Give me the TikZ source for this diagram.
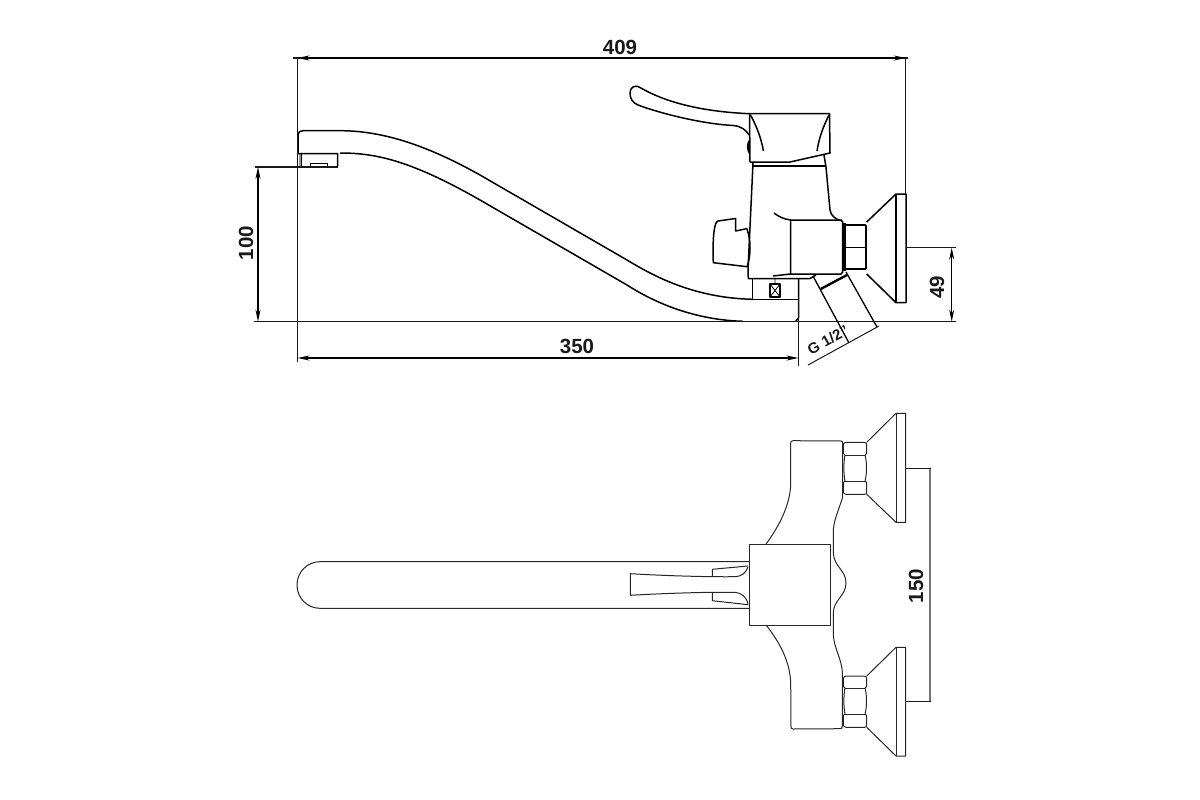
\documentclass[tikz,border=0pt]{standalone}
\usepackage{fontspec}
\setmainfont{Liberation Sans}
\usetikzlibrary{arrows.meta}
\tikzset{
  part/.style={draw=black,line width=1.5pt,line join=round},
  thin part/.style={draw=black!85,line width=1pt,line join=round},
  heavy/.style={draw=black,line width=2.4pt},
  dimline/.style={draw=black!90,line width=1pt},
  dimarrow/.style={draw=black,line width=1.2pt,{Stealth[length=12pt,width=5pt]}-{Stealth[length=12pt,width=5pt]}},
  dimtext/.style={font=\fontsize{20.5}{20.5}\selectfont\bfseries,inner sep=0pt,text=black!90}
}
\begin{document}
\begin{tikzpicture}[x=1pt,y=-1pt]
\useasboundingbox (0,0) rectangle (1200,800);
% ---------- side view: spout
\fill[black!40] (298.5,154) rectangle (301,167);
\draw[part] (340,153) .. controls (375,153) and (410,160) .. (480,200) -- (627,285)
  .. controls (655,303) and (695,320) .. (743,321.3);
\draw[part] (298,153.5) -- (298,135) .. controls (298,132) and (300,130.7) .. (303,130.7) -- (340,130.7)
  .. controls (385,130.7) and (430,147) .. (480,175) -- (627,260)
  .. controls (655,277) and (695,298) .. (752.7,299.3);
\draw[part] (298,153.5) -- (337.7,153.5) -- (337.7,166) -- (336,167.3);
\draw[part,line width=1pt] (301,154) -- (301,167);
\draw[part,line width=1pt] (310.7,167) -- (310.7,163.5) -- (327.3,163.5) -- (327.3,167);
% spout end block
\draw[part] (752.7,278) -- (752.7,299.3) -- (798.5,299.3);
\draw[part] (798.5,278) -- (798.5,318) -- (795.5,321.5);
\draw[part,line width=1.2pt] (770,284) rectangle (780,297);
\draw[part,line width=.8pt] (770,284) -- (780,297) (780,284) -- (770,297) (775,279) -- (775,284);
% lever
\draw[part] (749.5,113.7) .. controls (710,112) and (670,105) .. (640,87.5)
  .. controls (634,84) and (630,88) .. (630,93)
  .. controls (630,99) and (633,103) .. (638,105)
  .. controls (665,115) and (705,124) .. (733,125.5)
  .. controls (741,126) and (746,130) .. (749,135);
\fill[black] (749.5,139) .. controls (746,143) and (746,150) .. (749.5,155) -- cycle;
% handle
\draw[part] (749.5,113.7) -- (829.5,113.7) -- (830,153) -- (790,162) -- (750,162) -- cycle;
\draw[part] (750.5,115) .. controls (757,127) and (761,138) .. (763.5,151);
\draw[part] (829,115) .. controls (823,127) and (819,138) .. (817,151);
\draw[part] (753,166) -- (826,166);
% body
\draw[part] (753,163) -- (748,270) -- (748.3,278.5) -- (810,278.5) -- (816,275);
\draw[part] (824,155) -- (826,167) -- (830,210) .. controls (831,216) and (835,219) .. (842,221);
\draw[part] (774,213) .. controls (779,217) and (784,219) .. (790.7,220);
\draw[part] (773,276) -- (790.7,274);
\draw[part] (790.7,220) -- (841,220) -- (842.7,222) -- (842.7,272) -- (841,274) -- (790.7,274) -- cycle;
% knob
\draw[part] (747.5,228.5) -- (735.7,231) -- (735.7,218.5) -- (718,221) .. controls (714,222) and (712.5,238) .. (713.3,262.7) -- (747,266.7);
\draw[part] (747,229) .. controls (751,240) and (751,256) .. (747,267);
% nut and flange, side view
\draw[part] (866,225) -- (844,225) (844,247.5) -- (866,247.5) (844,269) -- (866,269);
\draw[heavy] (844.5,223) -- (844.5,271);
\draw[part] (866,225) -- (866,269);
\draw[part] (866.7,222) -- (896,194) -- (906,194) -- (906,302.7) -- (896,302.7) -- (866.7,274);
\draw[part] (896,194) -- (896,302.7);
% supply pipe
\draw[part,line width=1.3pt] (813,276) -- (849,343);
\draw[part,line width=1.3pt] (846,272) -- (877,327);
\draw[heavy] (820.7,289) -- (847,275);
% ---------- dimensions, side view
\coordinate (topL) at (297.5,58);
\coordinate (topR) at (905.8,58);
\coordinate (h1) at (258,167);
\coordinate (h2) at (258,321.6);
\coordinate (w1) at (297.5,358);
\coordinate (w2) at (798.5,358);
\coordinate (v1) at (951.7,247.7);
\coordinate (v2) at (951.7,321.6);
\coordinate (g1) at (808,365);
\coordinate (g2) at (879,326);
\draw[dimline,line width=1.2pt] (293,58) -- (908,58);
\draw[dimline,line width=1.2pt] (297.5,58) -- (297.5,362);
\draw[dimline,line width=1.2pt] (905.8,58) -- (905.8,194);
\draw[dimline] (798.5,299) -- (798.5,366);
\draw[dimline] (254,321.5) -- (955.5,321.5);
\draw[dimline,line width=1.2pt] (254.5,167) -- (337.7,167);
\draw[dimline] (906,247.5) -- (955.5,247.5);
\draw[dimline] (g1) -- (g2);
\draw[dimarrow] (topL) -- (topR);
\draw[dimarrow] (h1) -- (h2);
\draw[dimarrow] (w1) -- (w2);
\draw[dimarrow] (v1) -- (v2);
\node[dimtext] (t409) at (620,47) {409};
\node[dimtext] (t350) at (577,346) {350};
\node[dimtext,rotate=90] (t100) at (246,243) {100};
\node[dimtext,rotate=90] (t49) at (937,287) {49};
\node[dimtext,font=\fontsize{15}{15}\selectfont\bfseries,rotate=29] (tg) at (828,340) {G 1/2"};
% ---------- plan view
\draw[thin part] (750,561.7) -- (320,561.7) .. controls (307.3,561.7) and (297,572) .. (297,585)
  .. controls (297,598) and (307.3,608.3) .. (320,608.3) -- (750,608.3);
\draw[thin part] (749.7,544.3) -- (830,544.3) -- (830,625) -- (749.7,625) -- cycle;
% lever, plan
\draw[thin part] (748,567) .. controls (746,573) and (741,576.7) .. (735,576.7) .. controls (710,577) and (670,576) .. (630.3,573.7)
  -- (630.3,595.3) .. controls (670,593) and (710,592) .. (735,592.3) .. controls (741,592.7) and (747,597) .. (748,604.5);
\draw[thin part] (712.3,576.7) -- (712.3,569.3) -- (748,566);
\draw[thin part] (712.3,592.7) -- (712.3,600.7) -- (748,604.7);
% body, plan
\draw[thin part] (766,544) .. controls (778,528) and (790.7,505) .. (790.7,483) -- (790.7,443)
  .. controls (790.7,441.5) and (791.5,440.7) .. (793,440.7) -- (841,441) .. controls (842,441) and (842.7,442) .. (842.7,443) -- (842.7,497)
  .. controls (838,512) and (833,522) .. (833.3,533) -- (833.3,553) .. controls (834,567) and (846,570) .. (846,583)
  .. controls (846,596) and (833.3,600) .. (833.3,613) -- (833.3,635) .. controls (834,648) and (842,660) .. (842.3,672) -- (842.3,726)
  .. controls (842.3,728) and (841.5,728.7) .. (840.7,728.7) -- (793,729) .. controls (791.5,729) and (791,728) .. (791,727) -- (790.7,683)
  .. controls (790,660) and (778,640) .. (766,625);
% upper nut and flange
\draw[thin part] (846,442.3) -- (864.5,442.3) .. controls (866,442.3) and (866.7,444) .. (866.7,445) -- (866.7,452)
  .. controls (866.7,453) and (866,455) .. (865,455) .. controls (867,462) and (867,474) .. (865,481)
  .. controls (866,481) and (866.7,483) .. (866.7,484) -- (866.7,492) .. controls (866.7,493.5) and (866,494.3) .. (864.5,494.3) -- (846,494.3)
  .. controls (844.5,494.3) and (843.3,493) .. (843.3,491.5) -- (843.3,484) .. controls (843.3,483) and (844,481) .. (845,481)
  .. controls (843.5,474) and (843.5,462) .. (845,455) .. controls (844,455) and (843.3,453) .. (843.3,452) -- (843.3,445)
  .. controls (843.3,443.5) and (844.5,442.3) .. (846,442.3) -- cycle;
\draw[thin part] (845,455) -- (865,455) (845,481) -- (865,481);
\draw[thin part] (866.7,442.3) -- (896,413.3) -- (905.7,413.3) -- (905.7,522.3) -- (896,522.3) -- (866.7,494.3);
\draw[thin part] (896,413.3) -- (896,522.3);
% lower nut and flange
\draw[thin part] (846,676) -- (864.5,676) .. controls (866,676) and (866.7,677.5) .. (866.7,679) -- (866.7,685)
  .. controls (866.7,686) and (866,688) .. (865,688) .. controls (867,695) and (867,707) .. (865,714)
  .. controls (866,714) and (866.7,716) .. (866.7,717) -- (866.7,725) .. controls (866.7,726.5) and (866,727.3) .. (864.5,727.3) -- (846,727.3)
  .. controls (844.5,727.3) and (843.3,726) .. (843.3,724.5) -- (843.3,717) .. controls (843.3,716) and (844,714) .. (845,714)
  .. controls (843.5,707) and (843.5,695) .. (845,688) .. controls (844,688) and (843.3,686) .. (843.3,685) -- (843.3,679)
  .. controls (843.3,677.5) and (844.5,676) .. (846,676) -- cycle;
\draw[thin part] (845,688) -- (865,688) (845,714) -- (865,714);
\draw[thin part] (866.7,676) -- (896,647.3) -- (905.7,647.3) -- (905.7,756) -- (896,756) -- (866.7,727.3);
\draw[thin part] (896,647.3) -- (896,756);
% 150 dimension
\draw[draw=black!55,line width=1.2pt] (930,468.3) -- (930,701.7);
\draw[dimline,line width=.9pt] (905.7,468.5) -- (931,468.5) (905.7,701.5) -- (931,701.5);
\node[dimtext,rotate=90] (t150) at (916,586) {150};
\end{tikzpicture}
\end{document}
